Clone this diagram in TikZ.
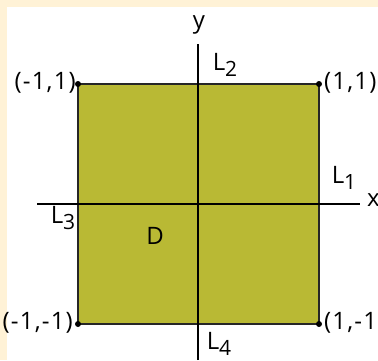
\documentclass[tikz,border=0pt]{standalone}
\usepackage{fontspec}
\setmainfont{Open Sans}[LetterSpace=5]
\definecolor{cream}{RGB}{255,242,214}
\definecolor{olive}{RGB}{185,185,52}
\newcommand{\Lsub}[1]{L\raisebox{-0.45ex}{\fontsize{21}{21}\selectfont #1}}
\begin{document}
\begin{tikzpicture}[x=1pt,y=-1pt,
  lbl/.style={inner sep=0pt,font=\fontsize{24}{24}\selectfont},
  axis/.style={draw=black,line width=1.1pt},
  corner/.style={circle,fill=black,inner sep=0pt,minimum size=6pt}]
\useasboundingbox (0,0) rectangle (378,360);
\fill[cream] (0,0) rectangle (378,360);
\fill[white] (7,7) rectangle (378,360);
% square
\coordinate (A) at (78,84);
\coordinate (B) at (319,84);
\coordinate (C) at (319,324);
\coordinate (E) at (78,324);
\filldraw[fill=olive,draw=black!85,line width=2pt] (A) -- (B) -- (C) -- (E) -- cycle;
% axes
\coordinate (xs) at (37,204);
\coordinate (xe) at (360,204);
\coordinate (ys) at (198,360);
\coordinate (ye) at (198,44);
\draw[axis] (xs) -- (xe);
\draw[axis] (ys) -- (ye);
% corner dots
\node[corner] (dA) at (A) {};
\node[corner] (dB) at (B) {};
\node[corner] (dC) at (C) {};
\node[corner] (dE) at (E) {};
% labels
\node[lbl,anchor=east] (lA) at (76,83) {(-1,1)};
\node[lbl,anchor=west] (lB) at (324,83) {(1,1)};
\node[lbl,anchor=west] (lC) at (324,323) {(1,-1)};
\node[lbl,anchor=east] (lE) at (73,323) {(-1,-1)};
\node[lbl] (ly) at (199,25) {y};
\node[lbl,anchor=west] (lx) at (367,200) {x};
\node[lbl] (L1) at (344,178) {\Lsub{1}};
\node[lbl] (L2) at (225,65) {\Lsub{2}};
\node[lbl] (L3) at (63,218) {\Lsub{3}};
\node[lbl] (L4) at (219,344) {\Lsub{4}};
\node[lbl] (D) at (155,236) {D};
\end{tikzpicture}
\end{document}
